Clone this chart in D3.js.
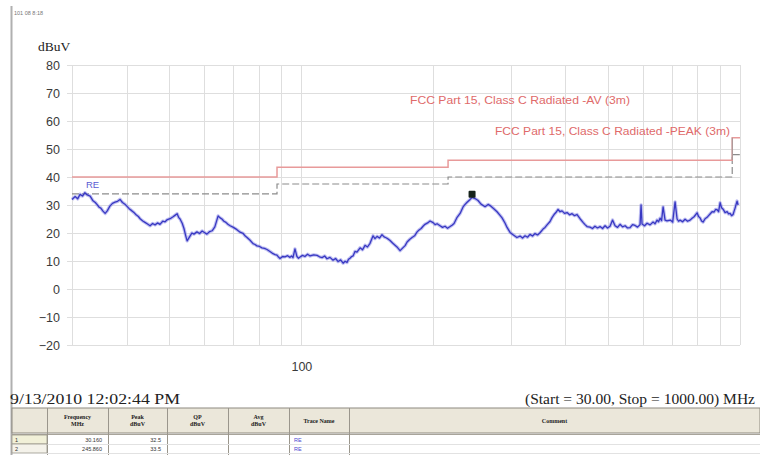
<!DOCTYPE html>
<html><head><meta charset="utf-8">
<script src="https://cdn.jsdelivr.net/npm/d3@7"></script>
<style>body{margin:0;background:#fff;overflow:hidden;} svg{display:block;}</style>
</head><body>
<svg id="c" width="760" height="455"></svg>
<script>
// ---- data ----
const traceFreq = [30.0,30.5,30.9,31.3,31.7,32.1,32.5,33.0,33.5,33.9,34.2,34.6,34.9,35.3,35.7,36.1,36.6,37.1,37.6,38.1,38.6,39.1,39.6,40.0,40.5,41.1,41.6,42.0,42.5,42.9,43.5,44.0,44.6,45.2,45.8,46.4,47.0,47.6,48.3,48.9,49.5,50.2,51.0,51.5,52.1,52.5,52.9,53.5,54.0,54.5,54.9,55.6,56.3,56.9,57.8,58.6,59.4,60.1,60.9,61.8,62.6,63.5,64.6,65.3,65.9,66.6,67.3,68.0,68.8,70.0,71.3,72.5,73.6,74.5,75.2,76.4,77.6,78.4,79.2,80.3,81.3,82.4,83.5,84.8,86.2,87.1,88.0,88.8,89.4,90.6,91.8,93.0,94.2,95.0,95.7,96.7,97.7,98.5,99.3,100.6,101.9,103.3,104.7,106.7,108.6,110.0,111.5,113.0,114.4,116.2,118.1,119.7,121.3,122.9,124.5,125.8,127.1,128.1,129.1,130.2,131.2,132.5,133.9,136.1,137.9,139.7,141.5,143.4,145.7,147.2,148.8,150.7,152.7,154.4,156.0,157.6,159.3,161.4,163.5,165.7,167.9,170.1,172.4,174.2,176.5,178.8,181.2,183.6,185.5,187.5,189.4,191.4,194.0,196.5,199.7,201.8,203.9,207.1,209.8,212.6,215.4,218.3,220.6,222.9,226.5,230.1,233.7,236.2,238.7,242.5,245.0,248.9,252.8,256.8,262.3,266.5,269.3,275.0,279.3,283.8,286.8,291.4,294.4,299.1,303.8,310.0,315.2,319.4,323.6,327.8,332.1,336.5,341.0,345.5,350.0,355.6,359.4,363.2,368.9,372.8,376.8,380.8,384.8,388.8,392.9,398.1,403.4,408.7,414.1,419.6,425.1,431.9,438.7,443.3,448.0,455.0,461.0,467.0,473.3,479.7,486.0,492.5,498.9,505.5,512.2,519.0,525.8,532.8,539.8,547.0,554.2,561.5,568.9,576.4,584.0,591.8,594.9,598.0,605.9,613.9,623.7,633.6,640.2,647.0,652.1,657.3,662.5,667.8,674.8,681.9,693.5,702.3,711.2,718.7,724.4,730.1,739.7,749.5,759.4,769.4,777.6,785.8,798.2,804.5,810.9,817.3,823.8,832.5,841.3,847.9,854.6,863.7,872.8,879.7,886.7,893.7,900.8,907.9,915.1,924.8,934.5,941.9,949.3,956.8,964.4,969.5,974.6,979.7,984.8,990.0];
const traceLevel = [32.0,33.0,32.2,33.8,33.2,34.4,33.6,33.2,31.5,30.9,30.2,29.2,28.9,27.8,27.0,27.9,29.6,30.6,31.0,31.3,32.0,30.9,30.3,29.6,28.7,27.9,27.2,26.5,25.9,25.1,24.3,23.8,23.2,22.6,23.4,22.9,23.6,23.1,24.2,24.0,24.8,25.1,25.8,26.3,26.9,25.6,25.0,23.5,21.6,19.0,17.2,18.6,20.0,19.6,20.4,19.8,20.7,20.2,19.6,20.5,20.8,22.2,26.1,25.4,25.0,24.2,23.8,23.1,22.6,22.0,21.2,20.3,19.9,18.9,18.4,17.4,16.2,15.9,15.4,15.2,14.7,14.5,14.1,13.4,12.6,12.3,12.1,11.3,10.9,11.6,11.5,11.9,11.3,11.8,11.2,14.3,11.6,11.0,11.4,12.0,11.6,12.4,11.8,12.2,12.0,11.5,11.2,11.8,10.8,11.3,10.3,10.9,9.8,10.4,9.2,9.9,9.5,10.6,11.0,11.6,11.8,13.4,13.2,14.7,14.0,15.6,15.0,16.3,19.0,18.0,18.8,18.2,19.4,18.6,18.3,17.9,17.3,16.4,15.6,14.8,13.7,14.6,15.5,16.8,17.7,18.4,19.0,20.4,21.1,21.6,22.4,23.1,23.6,24.3,23.7,23.0,23.3,22.6,22.0,22.4,21.7,22.3,22.8,23.4,25.6,27.0,29.3,30.2,31.0,32.0,32.7,32.3,31.6,30.3,29.4,30.2,29.8,28.6,27.6,26.3,25.4,23.5,22.0,20.2,19.4,18.4,18.9,18.2,19.0,18.5,19.5,18.9,19.8,19.3,20.1,21.4,22.0,22.9,24.1,25.5,26.6,27.4,28.4,27.6,27.9,27.0,27.3,26.5,26.9,26.2,26.6,25.1,23.8,23.0,22.3,22.1,21.6,22.4,21.8,22.3,21.6,22.6,21.8,22.4,24.6,22.6,22.0,23.1,22.2,22.6,21.8,21.9,23.0,22.7,22.1,23.0,30.0,23.2,22.6,23.5,22.9,23.9,23.3,24.6,24.0,25.3,24.4,29.3,24.6,24.3,24.6,23.9,31.1,25.0,24.2,24.6,24.0,24.9,24.2,24.6,25.3,25.8,27.2,25.9,25.4,24.3,23.9,25.1,25.6,26.2,26.8,27.6,27.5,28.4,28.3,27.6,30.8,29.0,28.5,27.3,27.6,26.8,27.0,26.2,26.6,27.8,28.9,30.2,31.4,30.0];
const limitFreq = [30, 88, 216, 960, 1000];
const limitSolid = [40, 43.5, 46, 54, 54];
const limitDashed = [34, 37.5, 40, 48, 48];
const limitLabels = ["FCC Part 15, Class C Radiated -AV (3m)", "FCC Part 15, Class C Radiated -PEAK (3m)"];
const yTicks = [-20,-10,0,10,20,30,40,50,60,70,80];
const xGrid = [30,40,50,60,70,80,90,100,200,300,400,500,600,700,800,900,1000];
const xLabels = [100];
const markerFreq = [245];
const markerLevel = [33.8];
const tableHeaders = [["",""],["Frequency","MHz"],["Peak","dBuV"],["QP","dBuV"],["Avg","dBuV"],["Trace Name",""],["Comment",""]];
const tableRows = [["1","30.160","32.5","","","RE",""],["2","245.860","33.5","","","RE",""]];

// ---- layout ----
const svg = d3.select("#c");
const x = d3.scaleLog().domain([30,1000]).range([72,740]);
const y = d3.scaleLinear().domain([-20,80]).range([345,65]);

// left window border
svg.append("line").attr("x1",11.5).attr("x2",11.5).attr("y1",6).attr("y2",455)
  .attr("stroke","#b0b0b0").attr("stroke-width",2);
svg.append("text").attr("x",14).attr("y",15).attr("font-family","Liberation Sans, Arial")
  .attr("font-size",5.5).attr("fill","#777").text("101 08 8:18");

// grid
const g = svg.append("g");
g.selectAll(".hg").data(yTicks).join("line")
  .attr("x1",67).attr("x2",740).attr("y1",d=>Math.round(y(d))+0.5).attr("y2",d=>Math.round(y(d))+0.5)
  .attr("stroke","#dedede").attr("stroke-width",1);
g.selectAll(".vg").data(xGrid).join("line")
  .attr("x1",d=>Math.round(x(d))+0.5).attr("x2",d=>Math.round(x(d))+0.5).attr("y1",65).attr("y2",345)
  .attr("stroke","#dedede").attr("stroke-width",1);

// axes labels
const yAxis = d3.axisLeft(y).tickValues(yTicks).tickSize(0).tickPadding(0);
svg.append("g").attr("transform","translate(60,0)").call(yAxis)
  .call(s=>s.select(".domain").remove())
  .call(s=>s.selectAll("text").attr("font-family","Liberation Sans, Arial").attr("font-size",12.5).attr("fill","#3a3a3a"));
const xAxis = d3.axisBottom(x).tickValues(xLabels).tickFormat(d3.format("d")).tickSize(0).tickPadding(0);
svg.append("g").attr("transform","translate(0,362)").call(xAxis)
  .call(s=>s.select(".domain").remove())
  .call(s=>s.selectAll("text").attr("font-family","Liberation Sans, Arial").attr("font-size",12.5).attr("fill","#3a3a3a"));

svg.append("text").attr("x",38).attr("y",51).attr("font-family","Liberation Serif, Times New Roman")
  .attr("font-size",13.5).attr("fill","#222").text("dBuV");

// limit lines
const stepLine = d3.line().x(d=>x(d[0])).y(d=>y(d[1])).curve(d3.curveStepAfter);
svg.append("path").datum(limitFreq.map((f,i)=>[f,limitDashed[i]]))
  .attr("d",stepLine).attr("fill","none").attr("stroke","#8c8c8c").attr("stroke-width",1.2)
  .attr("stroke-dasharray","7,3");
svg.append("path").datum(limitFreq.map((f,i)=>[f,limitSolid[i]]))
  .attr("d",stepLine).attr("fill","none").attr("stroke","#e89a9a").attr("stroke-width",1.5);
svg.append("line").attr("x1",x(960)).attr("x2",x(960)).attr("y1",y(54)).attr("y2",y(46))
  .attr("stroke","#999").attr("stroke-width",1);

svg.append("text").attr("x",410).attr("y",104).attr("font-family","Liberation Sans, Arial")
  .attr("font-size",10.5).attr("textLength",220).attr("lengthAdjust","spacingAndGlyphs")
  .attr("fill","#e06a6a").text(limitLabels[0]);
svg.append("text").attr("x",495).attr("y",135).attr("font-family","Liberation Sans, Arial")
  .attr("font-size",10.5).attr("textLength",235).attr("lengthAdjust","spacingAndGlyphs")
  .attr("fill","#e06a6a").text(limitLabels[1]);

// trace
const traceLine = d3.line().x(d=>x(d[0])).y(d=>y(d[1]));
const tdata = traceFreq.map((f,i)=>[f,traceLevel[i]]);
svg.append("path").datum(tdata).attr("d",traceLine).attr("fill","none")
  .attr("stroke","#8a8ae6").attr("stroke-width",3.4).attr("stroke-linejoin","round").attr("opacity",0.55);
svg.append("path").datum(tdata).attr("d",traceLine).attr("fill","none")
  .attr("stroke","#3838c2").attr("stroke-width",1.3).attr("stroke-linejoin","round");

svg.append("text").attr("x",86).attr("y",188).attr("font-family","Liberation Sans, Arial")
  .attr("font-size",9.5).attr("fill","#5a5ad2").text("RE");

// marker
svg.selectAll(".mk").data(markerFreq).join("rect")
  .attr("x",d=>x(d)-3.5).attr("y",(d,i)=>y(markerLevel[i])-3.5).attr("width",7).attr("height",7)
  .attr("rx",1).attr("fill","#15221a");

// footer texts
svg.append("text").attr("x",10).attr("y",404).attr("font-family","Liberation Serif, Times New Roman")
  .attr("font-size",15.5).attr("textLength",170).attr("lengthAdjust","spacingAndGlyphs")
  .attr("fill","#222").text("9/13/2010 12:02:44 PM");
svg.append("text").attr("x",525).attr("y",404).attr("font-family","Liberation Serif, Times New Roman")
  .attr("font-size",15).attr("textLength",230).attr("lengthAdjust","spacingAndGlyphs")
  .attr("fill","#222").text("(Start = 30.00, Stop = 1000.00) MHz");

// table
const colX = [12,47,108,167,228,289,349,760];
const hTop = 408, hBot = 433, rowH = 9;
const tb = svg.append("g");
tb.append("rect").attr("x",12).attr("y",hTop).attr("width",748).attr("height",hBot-hTop)
  .attr("fill","#ebe7da").attr("stroke","#8e8a80").attr("stroke-width",1);
tb.append("line").attr("x1",12).attr("x2",760).attr("y1",hBot+1.5).attr("y2",hBot+1.5).attr("stroke","#a8a49a");
tb.selectAll(".cl").data(colX.slice(1,-1)).join("line")
  .attr("x1",d=>d+0.5).attr("x2",d=>d+0.5).attr("y1",hTop).attr("y2",455)
  .attr("stroke","#9a968c").attr("stroke-width",1);
tableHeaders.forEach((h,i)=>{
  const cx = (colX[i]+colX[i+1])/2;
  const t = tb.append("text").attr("x",cx).attr("text-anchor","middle")
    .attr("font-family","Liberation Serif, Times New Roman").attr("font-weight","bold")
    .attr("font-size",6).attr("fill","#222");
  if(h[1]){ t.append("tspan").attr("x",cx).attr("y",419).text(h[0]); t.append("tspan").attr("x",cx).attr("y",426).text(h[1]); }
  else t.attr("y",423).text(h[0]);
});
tableRows.forEach((r,ri)=>{
  const top = hBot+2+ri*rowH;
  tb.append("rect").attr("x",12).attr("y",top).attr("width",35).attr("height",rowH)
    .attr("fill",ri===0?"#f1f0d8":"#f4f2ea").attr("stroke","#9a968c").attr("stroke-width",0.8);
  tb.append("line").attr("x1",47).attr("x2",760).attr("y1",top+rowH+0.5).attr("y2",top+rowH+0.5).attr("stroke","#e2e2e2");
  r.forEach((v,ci)=>{
    if(!v) return;
    const isName = ci===5;
    tb.append("text")
      .attr("x", ci===0 ? colX[0]+3 : (isName ? colX[ci]+5 : colX[ci+1]-6))
      .attr("y", top+7).attr("text-anchor", (ci===0||isName)?"start":"end")
      .attr("font-family","Liberation Sans, Arial").attr("font-size",5.5)
      .attr("fill", isName?"#4a4ad0":"#333").text(v);
  });
});
</script>
</body></html>
